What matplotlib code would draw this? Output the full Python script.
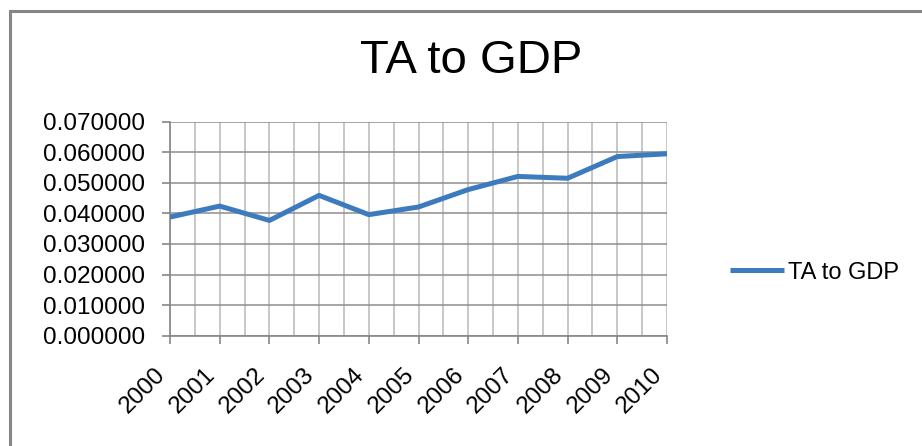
import matplotlib

matplotlib.use("Agg")

import matplotlib.pyplot as plt
import numpy as np
from matplotlib.patches import Rectangle

years = [2000, 2001, 2002, 2003, 2004, 2005, 2006, 2007, 2008, 2009, 2010]
ta_to_gdp = [0.0388, 0.0424, 0.0377, 0.0459, 0.0396, 0.0421, 0.0478, 0.0521, 0.0515, 0.0586, 0.0595]
y_ticks = [0.0, 0.01, 0.02, 0.03, 0.04, 0.05, 0.06, 0.07]

line_color = "#3D7BBF"
axis_grey = "#868686"

plt.rcParams["font.family"] = ["Liberation Sans", "DejaVu Sans"]

fig = plt.figure(figsize=(9.22, 4.46), dpi=100)
fig.patches.append(Rectangle((10 / 922, -0.1), 1.2, 1.1 - 11 / 446, transform=fig.transFigure,
                             facecolor="none", edgecolor=axis_grey, linewidth=2.2))

ax = fig.add_axes([170 / 922, 1 - 335.7 / 446, 497 / 922, 214 / 446])
ax.plot(years, ta_to_gdp, color=line_color, linewidth=3.6, label="TA to GDP",
        solid_capstyle="butt", zorder=3)

ax.set_xlim(2000, 2010)
ax.set_ylim(0, 0.07)
ax.set_yticks(y_ticks)
ax.set_yticklabels([f"{v:.6f}" for v in y_ticks])
ax.set_xticks(years)
ax.set_xticklabels([str(y) for y in years], rotation=45, ha="right", va="top")
ax.set_xticks(np.arange(2000.5, 2010, 1.0), minor=True)

ax.grid(axis="y", which="major", color="#8e8e8e", linewidth=1.1)
ax.grid(axis="x", which="both", color="#b8b8b8", linewidth=1.1)
ax.set_axisbelow(True)

for side in ("top", "right"):
    ax.spines[side].set_visible(False)
for side in ("left", "bottom"):
    ax.spines[side].set_color(axis_grey)
    ax.spines[side].set_linewidth(1.2)

ax.tick_params(axis="both", which="major", direction="out", length=6, width=1.2,
               color=axis_grey, labelsize=17.5)
ax.tick_params(axis="y", pad=12)
ax.tick_params(axis="x", pad=14)
ax.tick_params(axis="x", which="minor", length=0)

fig.text(471 / 922, 1 - 61 / 446, "TA to GDP", ha="center", va="center", fontsize=34)

fig.legend(handles=ax.get_lines(), loc="center left", bbox_to_anchor=(730 / 922, 1 - 272.7 / 446),
           frameon=False, fontsize=17, handlelength=2.3, handletextpad=0.17,
           borderpad=0, borderaxespad=0)

fig.savefig("out.png", dpi=100)
